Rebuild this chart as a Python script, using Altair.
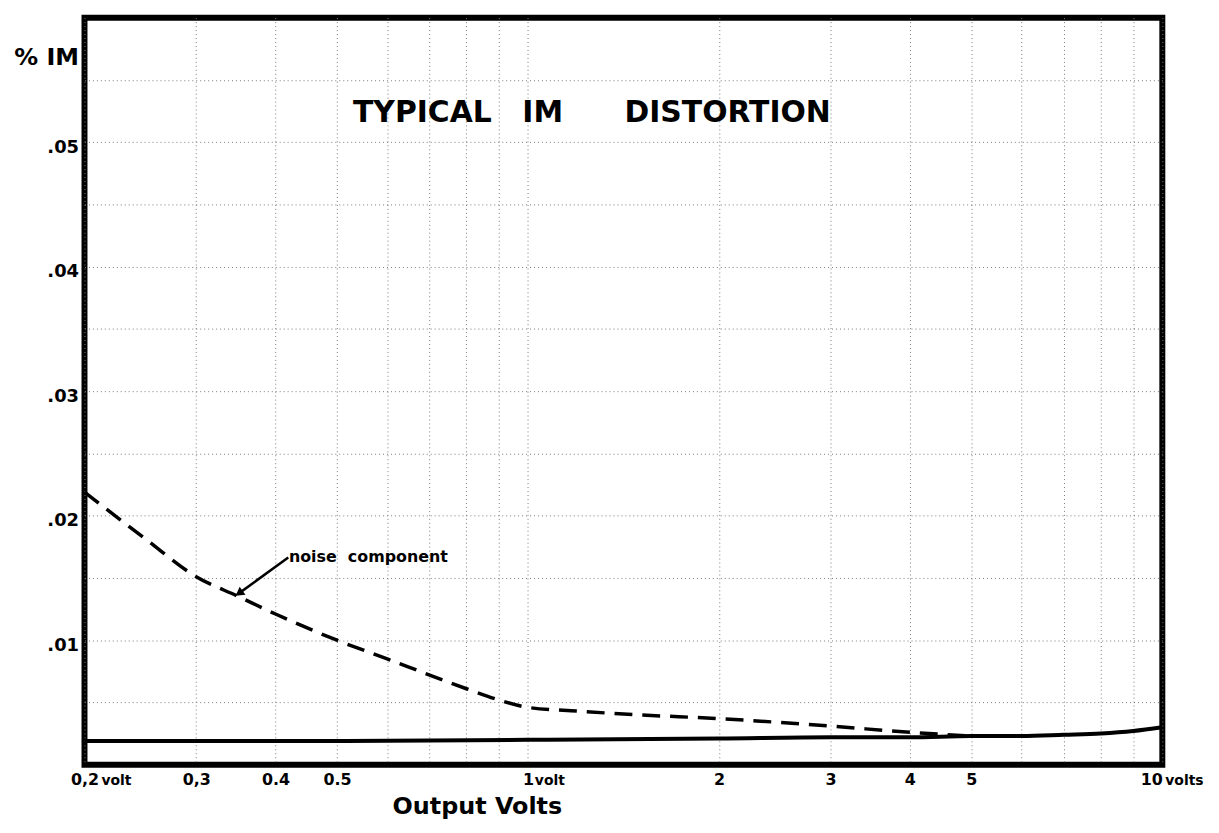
import altair as alt
import pandas as pd

# ---- data ----
noise_x = [0.2, 0.25, 0.3, 0.35, 0.4, 0.5, 0.6, 0.7, 0.8, 0.9, 1.0, 1.2, 1.5, 2, 3, 4, 5]
noise_y = [0.0219, 0.0181, 0.0151, 0.0135, 0.0121, 0.0100, 0.0085, 0.0072, 0.0061, 0.0052,
           0.0046, 0.0043, 0.0040, 0.0037, 0.0031, 0.0026, 0.0023]

total_x = [0.2, 0.5, 1, 2, 3, 4, 5, 6, 7, 8, 9, 10]
total_y = [0.0019, 0.0019, 0.0020, 0.0021, 0.0022, 0.0022, 0.0023, 0.0023, 0.0024, 0.0025, 0.0027, 0.0030]

grid_x = [0.2, 0.3, 0.4, 0.5, 0.6, 0.7, 0.8, 0.9, 1, 2, 3, 4, 5, 6, 7, 8, 9, 10]
label_x = [0.2, 0.3, 0.4, 0.5, 1, 2, 3, 4, 5, 10]
label_text = ["0,2", "0,3", "0.4", "0.5", "1", "2", "3", "4", "5", "10"]
grid_y = [0.005, 0.01, 0.015, 0.02, 0.025, 0.03, 0.035, 0.04, 0.045, 0.05, 0.055]

title_words = ["TYPICAL", "IM", "DISTORTION"]
title_x = [0.53, 0.98, 1.42]
title_y = [0.0523, 0.0523, 0.0523]

note_text = ["noise\u00a0\u00a0component"]
note_x = [0.42]
note_y = [0.0167]
arrow_x = [0.419, 0.352]
arrow_y = [0.01664, 0.01384]

unit_x = [0.2, 1, 10]
unit_text = ["volt", "volt", "volts"]

W, H = 1085, 752
FONT = "DejaVu Sans"

xlabel_expr = " : ".join(
    f"datum.value == {v} ? '{t}'" for v, t in zip(label_x, label_text)
) + " : ''"

xscale = alt.Scale(type="log", domain=[0.2, 10], nice=False)
yscale = alt.Scale(domain=[0, 0.06], nice=False, zero=True)

noise_df = pd.DataFrame({"x": noise_x, "y": noise_y})
total_df = pd.DataFrame({"x": total_x, "y": total_y})

xaxis = alt.Axis(
    values=grid_x, labelExpr=xlabel_expr, grid=True, gridColor="#7a7a7a",
    gridDash=[1, 3], gridWidth=1, ticks=False, domain=False,
    labelAlign={"condition": {"test": "datum.value >= 10", "value": "right"}, "value": "center"},
    labelFont=FONT, labelFontSize=16, labelFontWeight="bold", labelColor="black",
    labelPadding=7, title="Output Volts", titleFont=FONT, titleFontSize=24,
    titleFontWeight="bold", titleColor="black", titleX=395, titleY=30,
    titleAlign="center", titleBaseline="top", labelOverlap=False,
)
yaxis = alt.Axis(
    values=grid_y,
    labelExpr="round(datum.value*200) % 2 == 0 ? replace(format(datum.value, '.2f'), '0.', '.') : ''",
    grid=True, gridColor="#7a7a7a", gridDash=[1, 3], gridWidth=1, ticks=False,
    domain=False, labelFont=FONT, labelFontSize=18, labelFontWeight="bold",
    labelColor="black", labelPadding=6, labelOffset=5, labelOverlap=False,
    title="% IM", titleAngle=0, titleFont=FONT, titleFontSize=24,
    titleFontWeight="bold", titleColor="black", titleX=-6, titleY=40,
    titleAlign="right", titleBaseline="middle",
)

total = alt.Chart(total_df).mark_line(
    color="black", strokeWidth=4, interpolate="monotone"
).encode(
    x=alt.X("x:Q", scale=xscale, axis=xaxis),
    y=alt.Y("y:Q", scale=yscale, axis=yaxis),
)

noise = alt.Chart(noise_df).mark_line(
    color="black", strokeWidth=3.5, strokeDash=[18, 10], interpolate="monotone"
).encode(
    x=alt.X("x:Q", scale=xscale),
    y=alt.Y("y:Q", scale=yscale),
)

title_df = pd.DataFrame({"x": title_x, "y": title_y, "t": title_words})
title = alt.Chart(title_df).mark_text(
    font=FONT, fontSize=30, fontWeight="bold", align="left", baseline="middle", color="black"
).encode(x=alt.X("x:Q", scale=xscale), y=alt.Y("y:Q", scale=yscale), text="t:N")

note_df = pd.DataFrame({"x": note_x, "y": note_y, "t": note_text})
note = alt.Chart(note_df).mark_text(
    font=FONT, fontSize=16, fontWeight="bold", align="left", baseline="middle", color="black"
).encode(x=alt.X("x:Q", scale=xscale), y=alt.Y("y:Q", scale=yscale), text="t:N")

arrow_df = pd.DataFrame({"x": arrow_x, "y": arrow_y, "o": [0, 1]})
arrow_line = alt.Chart(arrow_df).mark_line(color="black", strokeWidth=2.5).encode(
    x=alt.X("x:Q", scale=xscale), y=alt.Y("y:Q", scale=yscale), order="o:Q"
)
arrow_head = alt.Chart(arrow_df.iloc[[1]]).mark_point(
    shape="triangle", filled=True, color="black", size=100, angle=234, opacity=1
).encode(x=alt.X("x:Q", scale=xscale), y=alt.Y("y:Q", scale=yscale))

unit_layers = []
for ux, ut, dx in zip(unit_x, unit_text, [17, 7, 3]):
    udf = pd.DataFrame({"x": [ux], "t": [ut]})
    unit_layers.append(
        alt.Chart(udf).mark_text(
            font=FONT, fontSize=14, fontWeight="bold", align="left", baseline="alphabetic",
            color="black", dx=dx
        ).encode(x=alt.X("x:Q", scale=xscale), y=alt.value(H + 20), text="t:N")
    )

chart = alt.layer(total, noise, title, note, arrow_line, arrow_head, *unit_layers).properties(
    width=W, height=H,
    autosize=alt.AutoSizeParams(type="none"),
    padding={"left": 77, "top": 7, "right": 49, "bottom": 60},
).configure(
    background="white"
).configure_view(
    stroke="black", strokeWidth=6
)

chart.save("out.html", embed_options={"renderer": "svg", "actions": False})
